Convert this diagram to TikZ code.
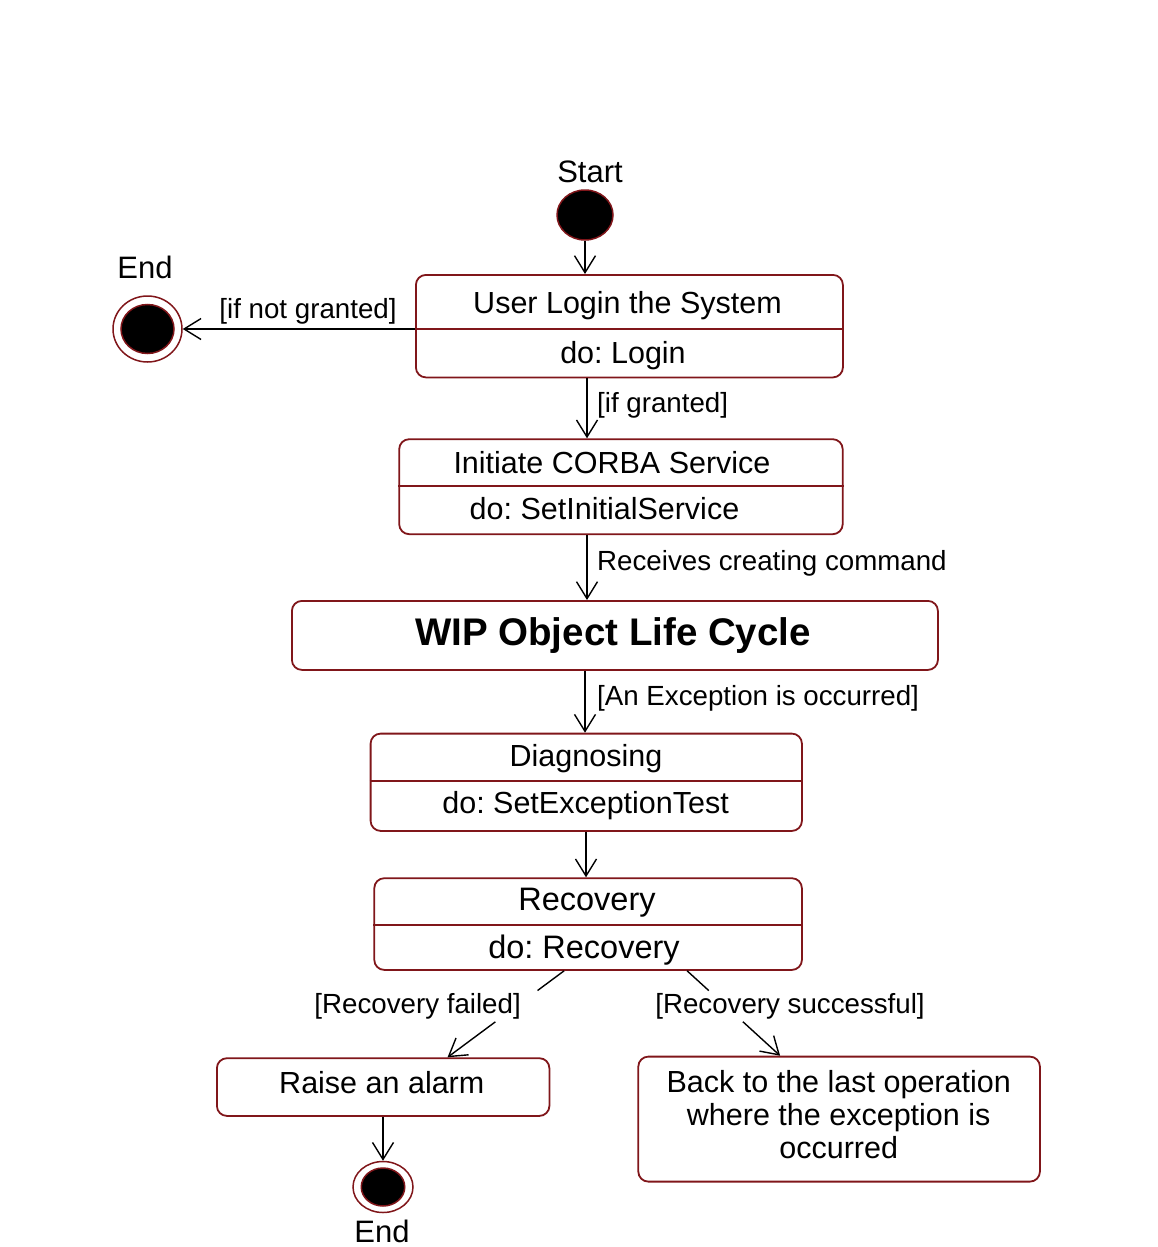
\documentclass[tikz,border=0pt]{standalone}
\usepackage{fontspec}
\setmainfont{Liberation Sans}
\usetikzlibrary{arrows.meta,calc,shapes.geometric}
\definecolor{bord}{RGB}{128,22,26}
\tikzset{
  stbox/.style={draw=bord, line width=1.8pt, rounded corners=10pt, inner sep=0pt, anchor=north west},
  divl/.style={draw=bord, line width=1.8pt},
  plainln/.style={draw=black, line width=1.4pt},
  conn/.style={plainln, -{Straight Barb[length=17pt,width=21pt,line width=1.4pt]}},
  lbl/.style={font=\fontsize{27.7}{30}\selectfont, inner sep=0pt},
  btxt/.style={font=\fontsize{30.5}{33}\selectfont, inner sep=0pt},
  rtxt/.style={font=\fontsize{32.5}{35}\selectfont, inner sep=0pt},
  ttl/.style={font=\fontsize{31}{34}\selectfont, inner sep=0pt},
  ring/.style={ellipse, draw=bord, line width=1.5pt, fill=white, inner sep=0pt},
  dot/.style={ellipse, draw=bord, line width=1.5pt, fill=black, inner sep=0pt},
}
\begin{document}
\frenchspacing
\begin{tikzpicture}[x=1pt,y=-1pt]
\useasboundingbox (0,0) rectangle (1157,1247);

% start
\node[ttl, anchor=base] (starttxt) at (590,182) {Start};
\node[dot, minimum width=56pt, minimum height=50pt] (start) at (585,215) {};

% end (top left)
\node[ttl, anchor=base] (endAtxt) at (145,278) {End};
\node[ring, minimum width=69pt, minimum height=66pt] (endA) at (147.5,329) {};
\node[dot, minimum width=53pt, minimum height=49pt] (endAin) at (147.5,329) {};

% login box
\node[stbox, minimum width=427pt, minimum height=102.5pt] (login) at (415,274) {};
\draw[divl] ($(login.north west)+(0,55)$) coordinate (loginmid) -- ($(login.north east)+(0,55)$);
\node[btxt, anchor=base] (logint) at (627.5,313) {User Login the System};
\node[btxt, anchor=base] (loginb) at (623,363) {do: Login};

% corba box
\node[stbox, minimum width=443.5pt, minimum height=95pt] (corba) at (398.3,438.3) {};
\draw[divl] ($(corba.north west)+(0,47.7)$) -- ($(corba.north east)+(0,47.7)$);
\node[btxt, anchor=base] (corbat) at (612,473) {Initiate CORBA Service};
\node[btxt, anchor=base] (corbab) at (604.5,519) {do: SetInitialService};

% WIP box
\node[stbox, minimum width=646pt, minimum height=69pt] (wip) at (291,600) {};
\node[font=\fontsize{38.5}{42}\selectfont\bfseries, inner sep=0pt, anchor=base] (wipt) at (613,645) {WIP Object Life Cycle};

% diagnosing box
\node[stbox, minimum width=431.3pt, minimum height=97.3pt] (diag) at (369.7,732.7) {};
\draw[divl] ($(diag.north west)+(0,48)$) -- ($(diag.north east)+(0,48)$);
\node[btxt, anchor=base] (diagt) at (586,766) {Diagnosing};
\node[btxt, anchor=base] (diagb) at (585.6,813) {do: SetExceptionTest};

% recovery box
\node[stbox, minimum width=427.6pt, minimum height=91.7pt] (rec) at (373.4,877.3) {};
\draw[divl] ($(rec.north west)+(0,47.7)$) -- ($(rec.north east)+(0,47.7)$);
\node[rtxt, anchor=base] (rect) at (587,910) {Recovery};
\node[rtxt, anchor=base] (recb) at (584,958) {do: Recovery};

% raise alarm
\node[stbox, minimum width=332.5pt, minimum height=57.7pt] (raise) at (216,1057.3) {};
\node[btxt, anchor=base] (raiset) at (381.8,1093) {Raise an alarm};

% back to last operation
\node[stbox, minimum width=401.6pt, minimum height=125pt] (back) at (637.4,1055.7) {};
\node[btxt, anchor=base, align=center] (backt) at (838.7,1158) {Back to the last operation\\where the exception is\\occurred};

% end (bottom)
\node[ring, minimum width=60pt, minimum height=51pt] (endB) at (383,1187) {};
\node[dot, minimum width=43.5pt, minimum height=38pt] (endBin) at (383,1187) {};
\node[ttl, anchor=base] (endBtxt) at (382,1242) {End};

% columns
\coordinate (c585) at (585,0);
\coordinate (c587) at (587,0);
\coordinate (c586) at (586,0);
\coordinate (c383) at (383,0);

% connectors
\draw[conn] (start) -- (start |- login.north);
\draw[conn] (loginmid) -- (endA);
\node[lbl, anchor=base] (lnotg) at (308,318) {[if not granted]};

\draw[conn] (login.south -| c587) -- (corba.north -| c587);
\node[lbl, anchor=base west] (lg) at (597,412) {[if granted]};

\draw[conn] (corba.south -| c587) -- (wip.north -| c587);
\node[lbl, anchor=base west] (lrc) at (597,570) {Receives creating command};

\draw[conn] (wip.south -| c585) -- (diag.north -| c585);
\node[lbl, anchor=base west] (lex) at (597,705) {[An Exception is occurred]};

\draw[conn] (diag.south -| c586) -- (rec.north -| c586);

% diagonal branches
\coordinate (ra) at ($(rec.south)+(-24,0)$);
\coordinate (la) at ($(raise.north)+(64.4,0)$);
\coordinate (rb) at ($(rec.south)+(99,0)$);
\coordinate (lb) at ($(back.north)+(-59,0)$);
\draw[plainln] (ra) -- ($(ra)!0.228!(la)$);
\draw[conn] ($(ra)!0.59!(la)$) -- (la);
\draw[plainln] (rb) -- ($(rb)!0.233!(lb)$);
\draw[conn] ($(rb)!0.60!(lb)$) -- (lb);
\node[lbl, anchor=base] (lrf) at (417.6,1013) {[Recovery failed]};
\node[lbl, anchor=base] (lrs) at (790,1013) {[Recovery successful]};

\draw[conn] (raise.south -| c383) -- (endB);
\end{tikzpicture}
\end{document}
